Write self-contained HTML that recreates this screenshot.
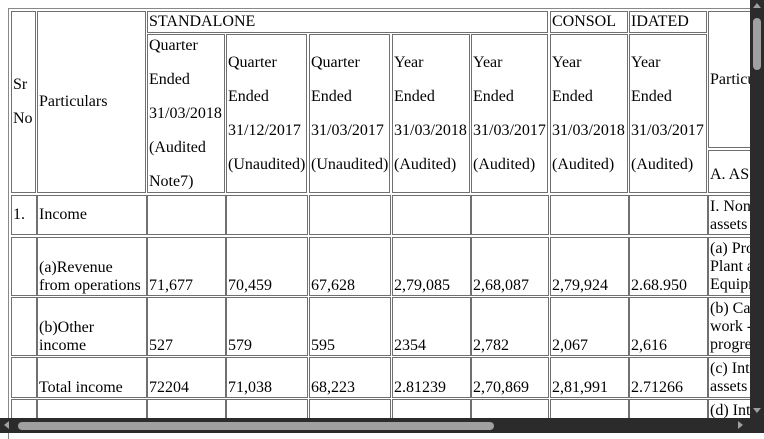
<!DOCTYPE html>
<html><head><meta charset="utf-8"><style>
body{margin:0;width:764px;height:433px;overflow:hidden;background:#fff;position:relative;font-family:"Liberation Serif",serif;font-size:16px;color:#000}
.t{position:absolute;left:8px;top:8px;width:760px;height:430px;border-top:1px solid #888;border-left:1px solid #888}
.c{position:absolute;border:1px solid #707070;box-sizing:border-box;display:flex;padding:0 1px;line-height:18px;overflow:hidden;white-space:nowrap}
.h{line-height:34px;align-items:center;overflow:visible}
.m{align-items:center}.b{align-items:flex-end}.tp{align-items:flex-start;padding-top:2px}
</style></head><body>
<div class="t"></div>
<div class="c m" style="left:11px;top:11px;width:25px;height:182px;line-height:34px"><div>Sr<br>No</div></div>
<div class="c m" style="left:37px;top:11px;width:109px;height:182px">Particulars</div>
<div class="c m" style="left:147px;top:11px;width:401px;height:22px">STANDALONE</div>
<div class="c m" style="left:550px;top:11px;width:78px;height:22px">CONSOL</div>
<div class="c m" style="left:629px;top:11px;width:78px;height:22px">IDATED</div>
<div class="c m" style="left:708px;top:11px;width:60px;height:137px">Particulars</div>
<div class="c m" style="left:708px;top:150px;width:60px;height:43px;padding-top:6px">A. ASSETS</div>
<div class="c h" style="left:147px;top:34px;width:78px;height:159px"><div>Quarter<br>Ended<br>31/03/2018<br>(Audited<br>Note7)</div></div>
<div class="c h" style="left:226px;top:34px;width:81px;height:159px"><div>Quarter<br>Ended<br>31/12/2017<br>(Unaudited)</div></div>
<div class="c h" style="left:309px;top:34px;width:81px;height:159px"><div>Quarter<br>Ended<br>31/03/2017<br>(Unaudited)</div></div>
<div class="c h" style="left:392px;top:34px;width:78px;height:159px"><div>Year<br>Ended<br>31/03/2018<br>(Audited)</div></div>
<div class="c h" style="left:471px;top:34px;width:77px;height:159px"><div>Year<br>Ended<br>31/03/2017<br>(Audited)</div></div>
<div class="c h" style="left:550px;top:34px;width:78px;height:159px"><div>Year<br>Ended<br>31/03/2018<br>(Audited)</div></div>
<div class="c h" style="left:629px;top:34px;width:78px;height:159px"><div>Year<br>Ended<br>31/03/2017<br>(Audited)</div></div>
<div id="rows"></div>
<div style="position:absolute;left:750px;top:0;width:14px;height:433px;background:#2b2b2b"></div>
<div style="position:absolute;left:753px;top:18px;width:8px;height:52px;border-radius:4px;background:#a0a0a0"></div>
<div style="position:absolute;left:0;top:418px;width:764px;height:15px;background:#2b2b2b"></div>
<div style="position:absolute;left:18px;top:422px;width:476px;height:8px;border-radius:4px;background:#a0a0a0"></div>
<div style="position:absolute;left:753px;top:3px;width:0;height:0;border-left:4px solid transparent;border-right:4px solid transparent;border-bottom:5px solid #a0a0a0"></div>
<div style="position:absolute;left:753px;top:408px;width:0;height:0;border-left:4px solid transparent;border-right:4px solid transparent;border-top:5px solid #a0a0a0"></div>
<div style="position:absolute;left:4px;top:421px;width:0;height:0;border-top:4px solid transparent;border-bottom:4px solid transparent;border-right:5px solid #a0a0a0"></div>
<div style="position:absolute;left:738px;top:421px;width:0;height:0;border-top:4px solid transparent;border-bottom:4px solid transparent;border-left:5px solid #a0a0a0"></div>
<script>
var cols=[[11,25],[37,109],[147,78],[226,81],[309,81],[392,78],[471,77],[550,78],[629,78],[708,60]];
var rows=[[195,39,'m'],[237,58,'b'],[297,58,'b'],[357,40,'b'],[399,30,'b']];
var data=[
 ['1.','Income','','','','','','','','I. Non-current<br>assets'],
 ['','(a)Revenue<br>from operations','71,677','70,459','67,628','2,79,085','2,68,087','2,79,924','2.68.950','(a) Property,<br>Plant and<br>Equipment'],
 ['','(b)Other<br>income','527','579','595','2354','2,782','2,067','2,616','(b) Capital<br>work -in-<br>progress'],
 ['','Total income','72204','71,038','68,223','2.81239','2,70,869','2,81,991','2.71266','(c) Intangible<br>assets'],
 ['','','','','','','','','','(d) Intangible']
];
var host=document.getElementById('rows');
rows.forEach(function(r,i){cols.forEach(function(c,j){
 var d=document.createElement('div');
 d.className='c '+(j==9?'tp':r[2]);
 d.style.cssText='left:'+c[0]+'px;top:'+r[0]+'px;width:'+(c[1]+1)+'px;height:'+(r[1]+1)+'px';
 d.innerHTML='<div>'+data[i][j]+'</div>';
 
 
 host.appendChild(d);
});});
</script>
</body></html>
